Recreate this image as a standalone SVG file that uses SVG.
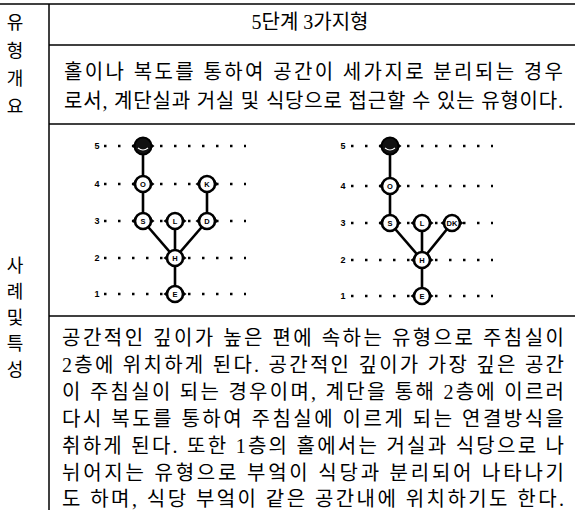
<svg xmlns="http://www.w3.org/2000/svg" xmlns:xlink="http://www.w3.org/1999/xlink" width="575" height="510" viewBox="0 0 575 510">
<style>
.t{font-family:"Liberation Serif","Noto Sans CJK KR",serif;font-size:20px;fill:#000}
.h{font-family:"Liberation Serif","Noto Sans CJK KR",serif;font-size:20px;fill:#000}
.side{font-family:"Noto Sans CJK KR",sans-serif;font-size:18px;fill:#000;text-anchor:middle}
.rule{stroke:#000;stroke-width:1.5;fill:none}
.dots{stroke:#000;stroke-width:2.5;stroke-dasharray:2.5 11.5;fill:none}
.edge{stroke:#000;stroke-width:2.6;fill:none}
.lvl{font-family:"Liberation Sans",sans-serif;font-size:9px;font-weight:bold;text-anchor:middle}
.nl{font-family:"Liberation Sans",sans-serif;font-size:7.5px;font-weight:bold;text-anchor:middle}
</style>
<defs>
<g id="node">
<path d="M-11.5,0 L-7,-3.5 L-7,3.5 Z M11.5,0 L7,-3.5 L7,3.5 Z" fill="#000"/>
<circle r="8" fill="#fff" stroke="#000" stroke-width="2.6"/>
</g>
<g id="bnode">
<path d="M-11.5,0 L-7,-3.5 L-7,3.5 Z M11.5,0 L7,-3.5 L7,3.5 Z" fill="#000"/>
<circle r="8.5" fill="#111" stroke="#000" stroke-width="2"/>
<path d="M-5,2 Q0,6 5,2" stroke="#fff" stroke-width="1.2" fill="none"/>
</g>
</defs>
<rect width="575" height="510" fill="#fff"/>
<g id="table">
<line class="rule" x1="0" y1="4" x2="575" y2="4"/>
<line class="rule" x1="49" y1="4" x2="49" y2="510"/>
<line class="rule" x1="49" y1="45" x2="575" y2="45"/>
<line class="rule" x1="49" y1="124" x2="575" y2="124"/>
<line class="rule" x1="49" y1="316" x2="575" y2="316"/>
</g>
<g id="side-labels">
<text class="side" x="15" y="29">유</text>
<text class="side" x="15" y="57">형</text>
<text class="side" x="15" y="85">개</text>
<text class="side" x="15" y="113">요</text>
<text class="side" x="15" y="272">사</text>
<text class="side" x="15" y="298">례</text>
<text class="side" x="15" y="324">및</text>
<text class="side" x="15" y="350">특</text>
<text class="side" x="15" y="376">성</text>
</g>
<g id="overview">
<text class="h" x="310" y="29" text-anchor="middle">5단계 3가지형</text>
<text class="t" x="64" y="79" textLength="499" lengthAdjust="spacing">홀이나 복도를 통하여 공간이 세가지로 분리되는 경우</text>
<text class="t" x="64" y="108" textLength="499" lengthAdjust="spacing">로서, 계단실과 거실 및 식당으로 접근할 수 있는 유형이다.</text>
</g>
<g id="description">
<text class="t" x="62" y="345" textLength="502" lengthAdjust="spacing">공간적인 깊이가 높은 편에 속하는 유형으로 주침실이</text>
<text class="t" x="62" y="372" textLength="502" lengthAdjust="spacing">2층에 위치하게 된다. 공간적인 깊이가 가장 깊은 공간</text>
<text class="t" x="62" y="399" textLength="502" lengthAdjust="spacing">이 주침실이 되는 경우이며, 계단을 통해 2층에 이르러</text>
<text class="t" x="62" y="426" textLength="502" lengthAdjust="spacing">다시 복도를 통하여 주침실에 이르게 되는 연결방식을</text>
<text class="t" x="62" y="453" textLength="502" lengthAdjust="spacing">취하게 된다. 또한 1층의 홀에서는 거실과 식당으로 나</text>
<text class="t" x="62" y="480" textLength="502" lengthAdjust="spacing">뉘어지는 유형으로 부엌이 식당과 분리되어 나타나기</text>
<text class="t" x="62" y="506" textLength="502" lengthAdjust="spacing">도 하며, 식당 부엌이 같은 공간내에 위치하기도 한다.</text>
</g>
<g id="levels-left">
<text class="lvl" x="97" y="149">5</text>
<text class="lvl" x="97" y="187">4</text>
<text class="lvl" x="97" y="224">3</text>
<text class="lvl" x="97" y="261">2</text>
<text class="lvl" x="97" y="297">1</text>
<line class="dots" x1="104" y1="146" x2="246" y2="146"/>
<line class="dots" x1="104" y1="184" x2="246" y2="184"/>
<line class="dots" x1="104" y1="221" x2="246" y2="221"/>
<line class="dots" x1="104" y1="258" x2="246" y2="258"/>
<line class="dots" x1="104" y1="294" x2="246" y2="294"/>
</g>
<g id="levels-right">
<text class="lvl" x="343" y="149">5</text>
<text class="lvl" x="343" y="189">4</text>
<text class="lvl" x="343" y="226">3</text>
<text class="lvl" x="343" y="263">2</text>
<text class="lvl" x="343" y="299">1</text>
<line class="dots" x1="351" y1="146" x2="493" y2="146"/>
<line class="dots" x1="351" y1="186" x2="493" y2="186"/>
<line class="dots" x1="351" y1="223" x2="493" y2="223"/>
<line class="dots" x1="351" y1="260" x2="493" y2="260"/>
<line class="dots" x1="351" y1="296" x2="493" y2="296"/>
</g>
<g id="connectors">
<line class="edge" x1="143" y1="146" x2="143" y2="184"/>
<line class="edge" x1="143" y1="184" x2="143" y2="221"/>
<line class="edge" x1="207" y1="184" x2="207" y2="221"/>
<line class="edge" x1="143" y1="221" x2="175" y2="258"/>
<line class="edge" x1="175" y1="221" x2="175" y2="258"/>
<line class="edge" x1="207" y1="221" x2="175" y2="258"/>
<line class="edge" x1="175" y1="258" x2="175" y2="294"/>
<line class="edge" x1="390" y1="146" x2="390" y2="186"/>
<line class="edge" x1="390" y1="186" x2="390" y2="223"/>
<line class="edge" x1="390" y1="223" x2="422" y2="260"/>
<line class="edge" x1="422" y1="223" x2="422" y2="260"/>
<line class="edge" x1="452" y1="223" x2="422" y2="260"/>
<line class="edge" x1="422" y1="260" x2="422" y2="296"/>
</g>
<g id="L-top"><use xlink:href="#bnode" x="143" y="146"/></g>
<g id="L-O"><use xlink:href="#node" x="143" y="184"/><text class="nl" x="143" y="187">O</text></g>
<g id="L-K"><use xlink:href="#node" x="207" y="184"/><text class="nl" x="207" y="187">K</text></g>
<g id="L-S"><use xlink:href="#node" x="143" y="221"/><text class="nl" x="143" y="224">S</text></g>
<g id="L-L"><use xlink:href="#node" x="175" y="221"/><text class="nl" x="175" y="224">L</text></g>
<g id="L-D"><use xlink:href="#node" x="207" y="221"/><text class="nl" x="207" y="224">D</text></g>
<g id="L-H"><use xlink:href="#node" x="175" y="258"/><text class="nl" x="175" y="261">H</text></g>
<g id="L-E"><use xlink:href="#node" x="175" y="294"/><text class="nl" x="175" y="297">E</text></g>
<g id="R-top"><use xlink:href="#bnode" x="390" y="146"/></g>
<g id="R-O"><use xlink:href="#node" x="390" y="186"/><text class="nl" x="390" y="189">O</text></g>
<g id="R-S"><use xlink:href="#node" x="390" y="223"/><text class="nl" x="390" y="226">S</text></g>
<g id="R-L"><use xlink:href="#node" x="422" y="223"/><text class="nl" x="422" y="226">L</text></g>
<g id="R-DK"><use xlink:href="#node" x="452" y="223"/><text class="nl" x="452" y="226" font-size="6.5">DK</text></g>
<g id="R-H"><use xlink:href="#node" x="422" y="260"/><text class="nl" x="422" y="263">H</text></g>
<g id="R-E"><use xlink:href="#node" x="422" y="296"/><text class="nl" x="422" y="299">E</text></g>
</svg>
